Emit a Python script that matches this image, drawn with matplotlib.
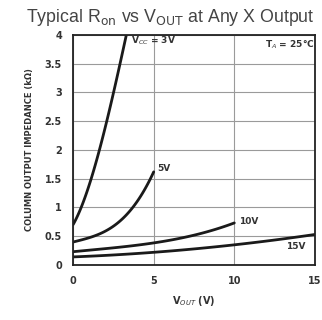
import matplotlib
matplotlib.use("Agg")
import matplotlib.pyplot as plt
import numpy as np

# Column output impedance (kOhm) versus output voltage, one curve per supply
vout_3v = [0.0, 0.5, 1.0, 1.5, 2.0, 2.5, 3.0, 3.3]
ron_3v = [0.70, 1.00, 1.40, 1.85, 2.40, 3.00, 3.60, 4.00]

vout_5v = [0.0, 1.0, 2.0, 3.0, 4.0, 5.0]
ron_5v = [0.40, 0.47, 0.59, 0.79, 1.11, 1.62]

vout_10v = [0.0, 2.5, 5.0, 7.5, 10.0]
ron_10v = [0.23, 0.30, 0.38, 0.52, 0.73]

vout_15v = [0.0, 5.0, 10.0, 15.0]
ron_15v = [0.14, 0.22, 0.35, 0.53]

curve_labels = ["V$_{CC}$ = 3V", "5V", "10V", "15V"]
x_ticks = [0, 5, 10, 15]
y_ticks = [0, 0.5, 1, 1.5, 2, 2.5, 3, 3.5, 4]
y_tick_labels = ["0", "0.5", "1", "1.5", "2", "2.5", "3", "3.5", "4"]


def smooth(xs, ys, n=80):
    xs = np.asarray(xs, float)
    ys = np.asarray(ys, float)
    xx = np.linspace(xs[0], xs[-1], n)
    coeffs = np.polyfit(xs, ys, min(3, len(xs) - 1))
    return xx, np.polyval(coeffs, xx)


fig = plt.figure(figsize=(3.22, 3.20), dpi=100)
ax = fig.add_axes([0.227, 0.172, 0.751, 0.719])

for xs, ys in [(vout_3v, ron_3v), (vout_5v, ron_5v),
               (vout_10v, ron_10v), (vout_15v, ron_15v)]:
    xx, yy = smooth(xs, ys)
    ax.plot(xx, yy, color="#1a1a1a", lw=2.0, solid_capstyle="round")

ax.set_xlim(0, 15)
ax.set_ylim(0, 4)
ax.set_xticks(x_ticks)
ax.set_xticklabels([str(t) for t in x_ticks])
ax.set_yticks(y_ticks)
ax.set_yticklabels(y_tick_labels)
ax.tick_params(length=0, pad=8, labelsize=7, colors="#333333")
for lab in ax.get_xticklabels() + ax.get_yticklabels():
    lab.set_fontweight("bold")

ax.grid(True, color="#9a9a9a", lw=0.8)
for s in ax.spines.values():
    s.set_color("#222222")
    s.set_linewidth(1.3)

label_style = dict(fontsize=6.5, fontweight="bold", color="#333333", va="center")
ax.text(3.6, 3.9, curve_labels[0], **label_style)
ax.text(5.25, 1.68, curve_labels[1], **label_style)
ax.text(10.3, 0.75, curve_labels[2], **label_style)
ax.text(13.2, 0.32, curve_labels[3], **label_style)
ax.text(11.9, 3.82, "T$_A$ = 25°C", **label_style)

ax.set_xlabel("V$_{OUT}$ (V)", fontsize=7, fontweight="bold",
              color="#333333", labelpad=6)
ax.set_ylabel("COLUMN OUTPUT IMPEDANCE (kΩ)", fontsize=6, fontweight="bold",
              color="#333333", labelpad=8)

fig.text(0.53, 0.945, "Typical R$_{\\mathrm{on}}$ vs V$_{\\mathrm{OUT}}$ at Any X Output",
         ha="center", va="center", fontsize=12.8, color="#444444",
         family="Liberation Sans")

fig.savefig("out.png", dpi=100, facecolor="white")
